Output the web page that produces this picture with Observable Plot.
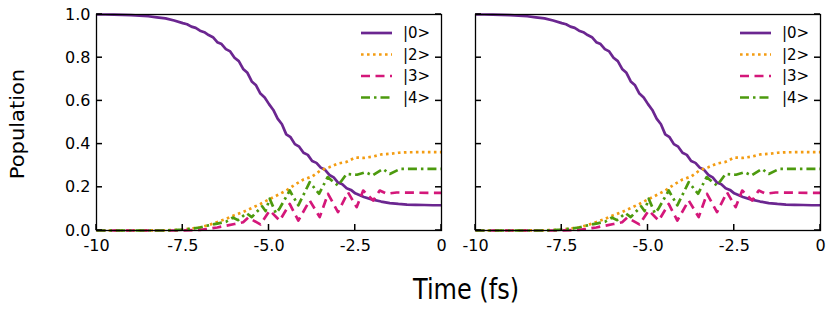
<!DOCTYPE html>
<html><head><meta charset="utf-8">
<script src="https://cdn.jsdelivr.net/npm/d3@7"></script>
<script src="https://cdn.jsdelivr.net/npm/@observablehq/plot@0.6"></script>
<style>
body{margin:0;background:#fff;}
#wrap{position:relative;width:831px;height:312px;font-family:"DejaVu Sans",sans-serif;overflow:hidden;}
#wrap svg{position:absolute;top:0;overflow:visible;}
#xlab{position:absolute;left:466px;top:290px;font-size:24px;color:#000;white-space:nowrap;transform:translate(-50%,-50%) scaleY(1.18);}
#ylab{position:absolute;left:17px;top:124px;font-size:21px;transform:translate(-50%,-50%) rotate(-90deg) scaleY(0.95);white-space:nowrap;color:#000;}
</style></head><body>
<div id="wrap"><div id="xlab">Time (fs)</div><div id="ylab">Population</div></div>
<script>
// ---- data ----
const xTicks = [-10, -7.5, -5, -2.5, 0];
const xTickLabels = ["-10", "-7.5", "-5.0", "-2.5", "0"];
const yTicks = [0, 0.2, 0.4, 0.6, 0.8, 1.0];
const yTickLabels = ["0.0", "0.2", "0.4", "0.6", "0.8", "1.0"];
const seriesNames = ["|0>", "|2>", "|3>", "|4>"];

const t0 = [-10,-9.75,-9.5,-9.25,-9,-8.75,-8.5,-8.25,-8,-7.75,-7.5,-7.375,-7.25,-7.125,-7,-6.875,-6.75,-6.625,-6.5,-6.375,-6.25,-6.125,-6,-5.875,-5.75,-5.625,-5.5,-5.375,-5.25,-5.125,-5,-4.875,-4.75,-4.625,-4.5,-4.375,-4.25,-4.125,-4,-3.875,-3.75,-3.625,-3.5,-3.375,-3.25,-3.125,-3,-2.875,-2.75,-2.625,-2.5,-2.25,-2,-1.75,-1.5,-1.25,-1,-0.75,-0.5,-0.25,0];
const p0 = [1.000,1.000,0.999,0.998,0.997,0.995,0.992,0.987,0.982,0.972,0.960,0.955,0.944,0.938,0.925,0.918,0.905,0.895,0.872,0.863,0.840,0.829,0.800,0.784,0.748,0.730,0.690,0.672,0.634,0.616,0.585,0.558,0.518,0.492,0.445,0.432,0.400,0.388,0.360,0.350,0.322,0.313,0.291,0.281,0.257,0.246,0.222,0.214,0.196,0.188,0.172,0.155,0.143,0.134,0.127,0.123,0.120,0.119,0.118,0.117,0.117];

const t2 = [-10,-9,-8,-7.75,-7.5,-7.25,-7,-6.75,-6.5,-6.25,-6,-5.75,-5.5,-5.25,-5,-4.75,-4.5,-4.25,-4,-3.75,-3.5,-3.25,-3,-2.75,-2.5,-2.25,-2,-1.75,-1.5,-1.25,-1,-0.5,0];
const p2 = [0,0,0.001,0.002,0.004,0.009,0.015,0.025,0.039,0.054,0.071,0.086,0.104,0.123,0.144,0.164,0.185,0.212,0.236,0.250,0.279,0.293,0.310,0.318,0.338,0.336,0.342,0.352,0.355,0.360,0.362,0.363,0.363];

const t3 = [-10,-7.5,-7,-6.75,-6.5,-6.25,-6,-5.75,-5.6,-5.25,-4.98,-4.69,-4.4,-4.15,-3.82,-3.53,-3.29,-3,-2.71,-2.46,-2.27,-1.98,-1.79,-1.59,-1.3,-0.8,0];
const p3 = [0,0,0.003,0.008,0.014,0.022,0.030,0.038,0.060,0.028,0.093,0.046,0.123,0.046,0.139,0.062,0.170,0.085,0.177,0.108,0.185,0.139,0.185,0.170,0.176,0.175,0.174];

const t4 = [-10,-8,-7.5,-7.25,-7,-6.75,-6.5,-6.25,-6.05,-5.9,-5.65,-5.5,-5.2,-5.1,-4.98,-4.8,-4.7,-4.4,-4.15,-3.82,-3.55,-3.3,-3,-2.75,-2.45,-2.2,-2,-1.7,-1.5,-1.2,-0.6,0];
const p4 = [0,0,0.004,0.008,0.014,0.024,0.032,0.040,0.060,0.048,0.080,0.062,0.112,0.090,0.147,0.080,0.100,0.185,0.116,0.224,0.170,0.247,0.208,0.262,0.258,0.270,0.255,0.285,0.262,0.285,0.285,0.285];

const colors = ["#6b2690", "#f39c12", "#d4177a", "#4c9a0e"];
const dashes = [null, "2.6,3.4", "9,5.5", "9,4,2.5,4"];

const toRows = (t, p) => t.map((x, i) => ({t: x, p: p[i]}));
const series = [toRows(t0, p0), toRows(t2, p2), toRows(t3, p3), toRows(t4, p4)];

const W = 345, H = 216, TICK = 6;
const fmtX = d => xTickLabels[xTicks.indexOf(d)];
const fmtY = d => yTickLabels[yTicks.findIndex(v => Math.abs(v - d) < 1e-9)];

function panel(showY, mLeft, mRight, leftPos) {
  const marks = [
    Plot.axisX(xTicks, {tickSize: 0, tickPadding: 9, tickFormat: fmtX, fontSize: 16, label: null}),
    showY ? Plot.axisY(yTicks, {tickSize: 0, tickPadding: 6, tickFormat: fmtY, fontSize: 16, label: null})
          : Plot.axisY(yTicks, {tickSize: 0, tickFormat: () => "", label: null})
  ];
  series.forEach((rows, i) => {
    marks.push(Plot.line(rows, {x: "t", y: "p", stroke: colors[i], strokeWidth: 2.7,
      strokeDasharray: dashes[i] || undefined, strokeLinecap: "butt", strokeLinejoin: "round"}));
  });
  marks.push(Plot.frame({stroke: "#000", strokeWidth: 1.3}));
  const svg = Plot.plot({
    width: mLeft + W + mRight, height: 312,
    marginLeft: mLeft, marginRight: mRight, marginTop: 14, marginBottom: 312 - 14 - H,
    style: {fontFamily: "'DejaVu Sans', sans-serif", fontSize: "16px", color: "#000", background: "transparent"},
    x: {domain: [-10, 0]},
    y: {domain: [0, 1]},
    marks
  });
  svg.style.left = leftPos + "px";
  // inward ticks, placed with the plot's own scales
  const sx = svg.scale("x"), sy = svg.scale("y");
  const X = d3.scaleLinear(sx.domain, sx.range), Y = d3.scaleLinear(sy.domain, sy.range);
  const x0 = X(-10), x1 = X(0), yb = Y(0);
  const tg = d3.select(svg).append("g");
  const tick = (a, b, c, d) => tg.append("line").attr("x1", a).attr("y1", b).attr("x2", c).attr("y2", d)
    .attr("stroke", "#000").attr("stroke-width", 1.5);
  yTicks.forEach(v => { const y = Y(v); tick(x0, y, x0 + TICK, y); tick(x1 - TICK, y, x1, y); });
  xTicks.forEach(v => { const x = X(v); tick(x, yb, x, yb - TICK); });
  // legend
  const g = d3.select(svg).append("g").attr("text-anchor", "start");
  const lx = mLeft + 265, rows = [33, 54.5, 76, 97.5];
  seriesNames.forEach((name, i) => {
    g.append("line").attr("x1", lx).attr("x2", lx + 31).attr("y1", rows[i]).attr("y2", rows[i])
      .attr("stroke", colors[i]).attr("stroke-width", 2.7)
      .attr("stroke-dasharray", dashes[i]);
    g.append("text").attr("x", lx + 42).attr("y", rows[i]).attr("dy", "0.36em")
      .attr("font-size", 15).attr("font-family", "'DejaVu Sans', sans-serif").attr("fill", "#000").text(name);
  });
  return svg;
}

const wrap = document.getElementById("wrap");
wrap.appendChild(panel(true, 96, 17, 0));
wrap.appendChild(panel(false, 17, 11, 458));
</script>
</body></html>
